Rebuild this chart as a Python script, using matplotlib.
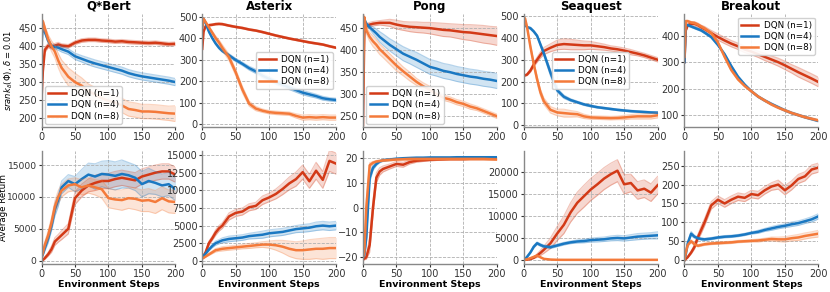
import numpy as np
import matplotlib
matplotlib.use("Agg")
import matplotlib.pyplot as plt

games = ["Q*Bert", "Asterix", "Pong", "Seaquest", "Breakout"]
labels = ["DQN (n=1)", "DQN (n=4)", "DQN (n=8)"]
colors = ["#d33a17", "#1a78c2", "#f47a3a"]

steps = [0, 2, 5, 10, 15, 20, 25, 30, 40, 50, 60, 70, 80, 90, 100,
         110, 120, 130, 140, 150, 160, 170, 180, 190, 200]

# ---- srank (top row): mean and spread for n=1, n=4, n=8 ----
qbert_srank = [
    [250, 330, 390, 402, 398, 402, 405, 402, 400, 410, 416, 418, 418, 416, 415, 413, 414, 412, 411, 410, 409, 410, 408, 406, 407],
    [400, 460, 440, 415, 400, 398, 396, 392, 385, 372, 365, 358, 352, 347, 342, 337, 332, 325, 320, 316, 313, 310, 307, 304, 300],
    [420, 470, 450, 420, 400, 385, 360, 340, 315, 300, 290, 275, 265, 255, 248, 243, 235, 225, 222, 218, 218, 217, 215, 213, 212],
]
qbert_srank_sd = [
    [0, 5, 8, 6, 6, 6, 6, 5, 5, 5, 5, 5, 5, 5, 5, 5, 5, 5, 5, 5, 5, 5, 5, 5, 5],
    [5, 5, 5, 6, 6, 6, 7, 8, 8, 9, 9, 10, 10, 10, 10, 10, 10, 10, 10, 10, 10, 10, 10, 10, 10],
    [5, 5, 8, 12, 15, 18, 20, 22, 25, 25, 22, 20, 20, 20, 20, 20, 20, 20, 20, 20, 20, 20, 20, 20, 22],
]
asterix_srank = [
    [350, 430, 455, 460, 462, 465, 466, 465, 458, 452, 447, 440, 435, 428, 420, 412, 405, 398, 392, 386, 380, 375, 370, 362, 355],
    [450, 490, 470, 430, 400, 375, 355, 340, 320, 298, 280, 260, 245, 225, 210, 195, 182, 170, 158, 146, 138, 130, 120, 115, 112],
    [450, 490, 475, 450, 425, 400, 380, 355, 310, 240, 160, 95, 72, 62, 55, 52, 50, 48, 38, 30, 32, 30, 32, 30, 30],
]
asterix_srank_sd = [
    [2, 4, 4, 4, 4, 4, 4, 4, 4, 4, 4, 4, 4, 4, 4, 4, 4, 4, 4, 4, 4, 4, 4, 4, 4],
    [3, 5, 5, 5, 5, 5, 6, 6, 7, 8, 8, 9, 10, 10, 10, 10, 10, 10, 10, 10, 10, 9, 9, 8, 8],
    [3, 5, 5, 5, 8, 10, 12, 14, 15, 15, 15, 12, 10, 8, 8, 8, 8, 8, 10, 12, 12, 12, 12, 12, 12],
]
pong_srank = [
    [230, 440, 455, 458, 460, 461, 462, 462, 462, 458, 455, 453, 452, 451, 450, 448, 446, 445, 443, 441, 440, 438, 436, 434, 432],
    [350, 470, 460, 452, 445, 438, 430, 424, 412, 402, 392, 385, 378, 370, 362, 358, 353, 350, 346, 343, 340, 338, 335, 333, 330],
    [300, 475, 445, 430, 420, 412, 402, 395, 380, 365, 352, 340, 328, 318, 310, 300, 292, 288, 282, 278, 272, 268, 262, 256, 250],
]
pong_srank_sd = [
    [2, 5, 5, 5, 5, 5, 5, 6, 8, 10, 10, 11, 12, 12, 13, 14, 15, 15, 16, 17, 18, 19, 20, 20, 21],
    [3, 3, 3, 5, 8, 10, 12, 13, 14, 15, 16, 16, 17, 17, 17, 17, 17, 17, 17, 17, 17, 17, 17, 17, 17],
    [5, 5, 8, 10, 12, 12, 12, 12, 12, 12, 10, 10, 8, 8, 8, 8, 6, 6, 6, 6, 6, 5, 5, 5, 5],
]
seaquest_srank = [
    [230, 228, 232, 250, 278, 300, 322, 340, 355, 368, 372, 370, 368, 366, 366, 362, 358, 352, 348, 342, 335, 328, 320, 310, 300],
    [470, 460, 450, 445, 430, 410, 370, 330, 240, 160, 130, 115, 105, 95, 88, 82, 78, 74, 70, 67, 64, 62, 60, 58, 57],
    [450, 490, 450, 360, 280, 210, 150, 110, 70, 58, 55, 52, 50, 40, 35, 34, 33, 32, 33, 35, 38, 40, 40, 40, 45],
]
seaquest_srank_sd = [
    [3, 3, 5, 8, 10, 12, 14, 16, 18, 22, 24, 24, 22, 20, 18, 16, 14, 12, 12, 12, 12, 10, 10, 10, 10],
    [3, 3, 3, 5, 5, 5, 8, 10, 15, 10, 8, 6, 5, 5, 5, 4, 4, 4, 4, 4, 4, 4, 4, 4, 4],
    [5, 5, 8, 10, 12, 15, 15, 15, 15, 15, 18, 15, 12, 10, 8, 8, 8, 8, 8, 10, 10, 12, 12, 12, 12],
]
breakout_srank = [
    [300, 420, 440, 445, 445, 440, 432, 425, 410, 395, 382, 370, 360, 348, 340, 330, 320, 310, 300, 288, 275, 262, 250, 238, 225],
    [300, 440, 440, 435, 430, 425, 420, 412, 395, 365, 330, 285, 245, 215, 190, 170, 155, 142, 130, 118, 108, 100, 92, 85, 78],
    [320, 455, 455, 450, 448, 442, 435, 428, 410, 375, 320, 270, 235, 210, 190, 170, 155, 140, 128, 118, 108, 100, 92, 86, 80],
]
breakout_srank_sd = [
    [3, 5, 5, 8, 8, 8, 8, 10, 10, 12, 12, 12, 12, 12, 12, 12, 14, 14, 15, 16, 16, 18, 18, 18, 18],
    [3, 4, 4, 4, 4, 4, 4, 4, 4, 4, 4, 4, 4, 4, 4, 4, 4, 4, 4, 4, 4, 4, 4, 4, 4],
    [3, 4, 4, 4, 4, 4, 4, 4, 4, 4, 4, 4, 4, 4, 4, 4, 4, 4, 4, 4, 4, 4, 4, 4, 4],
]

# ---- average return (bottom row) ----
qbert_ret = [
    [0, 100, 400, 1000, 1800, 3000, 3500, 4000, 5000, 9800, 11000, 11800, 12200, 12500, 12500, 12800, 13000, 12800, 12600, 13200, 13500, 13800, 14000, 14000, 13500],
    [500, 1000, 2000, 3500, 5500, 8000, 9500, 11500, 12500, 12000, 12800, 13500, 13200, 13600, 13500, 13300, 13600, 13400, 13000, 12000, 12500, 12200, 11800, 12000, 11200],
    [500, 1200, 2500, 4000, 6000, 8500, 10000, 11000, 11800, 12000, 11500, 11800, 11500, 11200, 9800, 9600, 9500, 9800, 9700, 9400, 9500, 9200, 9800, 9300, 9200],
]
qbert_ret_sd = [
    [0, 100, 200, 300, 500, 600, 600, 700, 800, 1000, 1000, 1000, 1200, 1200, 1200, 1200, 1200, 1200, 1200, 1200, 1200, 1200, 1200, 1200, 1200],
    [200, 300, 500, 700, 800, 1000, 1000, 1000, 1000, 1200, 1500, 1800, 2000, 2000, 2200, 2200, 2200, 2000, 2000, 2000, 2000, 1800, 1800, 1800, 1800],
    [200, 300, 500, 700, 800, 900, 1000, 1000, 1000, 1000, 1200, 1200, 1200, 1400, 1500, 1500, 1600, 1600, 1700, 1700, 1800, 1800, 1800, 1800, 1800],
]
asterix_ret = [
    [500, 700, 1200, 2500, 3200, 4000, 4600, 5000, 6300, 6800, 7000, 7600, 7800, 8600, 9000, 9500, 10200, 11000, 11600, 12600, 11300, 12800, 11500, 14200, 13800],
    [500, 700, 1000, 1600, 2100, 2500, 2700, 2900, 3100, 3200, 3300, 3500, 3600, 3700, 3900, 4000, 4100, 4300, 4500, 4600, 4700, 4900, 5000, 4900, 5000],
    [300, 400, 600, 900, 1200, 1500, 1600, 1700, 1800, 1900, 2000, 2100, 2200, 2300, 2300, 2200, 2000, 1700, 1500, 1500, 1600, 1700, 1700, 1800, 1800],
]
asterix_ret_sd = [
    [50, 100, 150, 300, 300, 400, 400, 400, 500, 500, 500, 500, 500, 600, 600, 700, 800, 900, 1000, 1000, 1000, 1200, 1200, 1500, 1500],
    [50, 100, 150, 200, 250, 300, 300, 350, 400, 400, 400, 400, 450, 500, 500, 500, 500, 500, 500, 550, 550, 600, 600, 600, 600],
    [50, 50, 100, 150, 200, 250, 250, 300, 300, 300, 300, 350, 350, 400, 500, 700, 900, 1100, 1200, 1300, 1400, 1400, 1500, 1500, 1500],
]
pong_ret = [
    [-21, -20.5, -20, -15, 0, 12, 14.5, 15.5, 16.5, 17.5, 17.2, 18.3, 18.8, 19, 19.2, 19.3, 19.4, 19.5, 19.5, 19.5, 19.6, 19.6, 19.6, 19.6, 19.6],
    [-20, -19, -12, 12, 16, 17.5, 18.5, 19, 19.3, 19.6, 19.8, 19.9, 20, 20, 20.1, 20.1, 20.1, 20.1, 20.2, 20.2, 20.2, 20.2, 20.2, 20.2, 20.2],
    [-20, -18, 0, 17, 18, 18.5, 18.7, 18.9, 19.1, 19.3, 19.4, 19.5, 19.5, 19.5, 19.5, 19.5, 19.5, 19.5, 19.5, 19.5, 19.5, 19.5, 19.5, 19.4, 19.3],
]
pong_ret_sd = [
    [0.3, 0.5, 0.8, 3, 3, 2, 1.5, 1.2, 1, 1, 1, 0.8, 0.6, 0.5, 0.5, 0.4, 0.4, 0.4, 0.4, 0.4, 0.4, 0.4, 0.4, 0.4, 0.4],
    [0.3, 1, 3, 2, 1, 0.6, 0.5, 0.4, 0.4, 0.3, 0.3, 0.3, 0.3, 0.3, 0.3, 0.3, 0.3, 0.3, 0.3, 0.3, 0.3, 0.3, 0.3, 0.3, 0.3],
    [0.3, 1, 3, 1, 0.5, 0.4, 0.4, 0.4, 0.4, 0.4, 0.4, 0.4, 0.4, 0.4, 0.4, 0.4, 0.4, 0.4, 0.4, 0.4, 0.4, 0.4, 0.4, 0.4, 0.4],
]
seaquest_ret = [
    [0, 20, 60, 200, 500, 1000, 1600, 2300, 3800, 6000, 8000, 10800, 13000, 14500, 16000, 17200, 18500, 19500, 20300, 17200, 17500, 15800, 16200, 15300, 17000],
    [0, 200, 700, 1700, 3000, 3800, 3400, 3100, 2900, 3300, 3700, 4000, 4200, 4300, 4500, 4600, 4700, 4900, 5000, 4900, 5100, 5300, 5400, 5500, 5600],
    [0, 50, 150, 400, 700, 1000, 600, 250, 80, 30, 20, 20, 20, 20, 20, 20, 20, 20, 20, 20, 20, 20, 20, 20, 20],
]
seaquest_ret_sd = [
    [0, 10, 30, 100, 200, 400, 600, 800, 1200, 1600, 2000, 2200, 2400, 2500, 2500, 2500, 2500, 2500, 2500, 2200, 2000, 2000, 2000, 2000, 2000],
    [0, 50, 100, 200, 300, 300, 300, 300, 300, 300, 300, 300, 350, 400, 450, 500, 500, 550, 600, 600, 650, 700, 700, 700, 800],
    [0, 10, 30, 60, 80, 100, 80, 50, 20, 10, 10, 10, 10, 10, 10, 10, 10, 10, 10, 10, 10, 10, 10, 10, 10],
]
breakout_ret = [
    [0, 3, 8, 20, 35, 60, 80, 100, 145, 160, 150, 160, 168, 165, 175, 172, 185, 195, 200, 185, 198, 215, 222, 240, 245],
    [0, 15, 45, 70, 62, 58, 56, 55, 57, 60, 62, 63, 65, 68, 72, 75, 80, 84, 88, 91, 95, 98, 103, 108, 116],
    [0, 20, 40, 50, 42, 38, 40, 42, 44, 45, 46, 47, 49, 50, 51, 52, 54, 56, 55, 55, 58, 60, 64, 67, 70],
]
breakout_ret_sd = [
    [0, 1, 2, 4, 6, 8, 10, 10, 10, 10, 10, 10, 10, 10, 10, 10, 10, 10, 12, 12, 12, 12, 12, 12, 12],
    [0, 2, 4, 6, 4, 3, 3, 3, 3, 3, 3, 3, 3, 3, 3, 4, 4, 5, 5, 5, 6, 6, 6, 7, 7],
    [0, 2, 3, 4, 3, 3, 3, 3, 3, 3, 3, 3, 3, 3, 3, 4, 4, 5, 6, 7, 7, 8, 8, 8, 9],
]

top_data = [(qbert_srank, qbert_srank_sd), (asterix_srank, asterix_srank_sd),
            (pong_srank, pong_srank_sd), (seaquest_srank, seaquest_srank_sd),
            (breakout_srank, breakout_srank_sd)]
bot_data = [(qbert_ret, qbert_ret_sd), (asterix_ret, asterix_ret_sd),
            (pong_ret, pong_ret_sd), (seaquest_ret, seaquest_ret_sd),
            (breakout_ret, breakout_ret_sd)]

top_ylim = [(174, 490), (-15, 512), (225, 482), (-10, 510), (54, 482)]
top_yticks = [[200, 250, 300, 350, 400, 450], [0, 100, 200, 300, 400, 500],
              [250, 300, 350, 400, 450], [0, 100, 200, 300, 400, 500],
              [100, 200, 300, 400]]
bot_ylim = [(-570, 17200), (-500, 15600), (-22.8, 22.7), (-985, 24770), (-11, 289)]
bot_yticks = [[0, 5000, 10000, 15000], [0, 2500, 5000, 7500, 10000, 12500, 15000],
              [-20, -10, 0, 10, 20], [0, 5000, 10000, 15000, 20000],
              [0, 50, 100, 150, 200, 250]]
legend_loc = ["lower left", "center right", "lower left", "center", "upper right"]

plt.rcParams["font.family"] = "DejaVu Sans"
plt.rcParams["font.size"] = 7

fig, axes = plt.subplots(2, 5, figsize=(8.3, 2.92), dpi=100)
fig.subplots_adjust(left=0.05, right=0.986, top=0.952, bottom=0.095,
                    wspace=0.2, hspace=0.21)

x = np.array(steps)


def style(ax):
    for s in ["top", "right"]:
        ax.spines[s].set_visible(False)
    for s in ["left", "bottom"]:
        ax.spines[s].set_color("#888888")
        ax.spines[s].set_linewidth(1.0)
    ax.grid(True, linestyle="--", color="#b0b0b0", linewidth=0.6)
    ax.tick_params(labelsize=7, colors="#333333", length=2.5, width=0.8, pad=1)
    ax.set_xlim(0, 200)
    ax.set_xticks([0, 50, 100, 150, 200])


def draw(ax, data):
    means, sds = data
    for m, sd, c, lab in zip(means, sds, colors, labels):
        m = np.array(m, dtype=float)
        sd = np.array(sd, dtype=float)
        ax.fill_between(x, m - sd, m + sd, color=c, alpha=0.2, lw=0)
        ax.plot(x, m + sd, color=c, alpha=0.3, lw=0.8)
        ax.plot(x, m - sd, color=c, alpha=0.3, lw=0.8)
        ax.plot(x, m, color=c, lw=1.8, label=lab)


for i in range(5):
    ax = axes[0, i]
    draw(ax, top_data[i])
    style(ax)
    ax.set_ylim(*top_ylim[i])
    ax.set_yticks(top_yticks[i])
    ax.set_title(games[i], fontsize=8.5, fontweight="bold", pad=3)
    ax.legend(loc=legend_loc[i], fontsize=6.3, handlelength=2.0,
              borderpad=0.35, labelspacing=0.25, handletextpad=0.6,
              borderaxespad=0.4, framealpha=0.9)

    ax = axes[1, i]
    draw(ax, bot_data[i])
    style(ax)
    ax.set_ylim(*bot_ylim[i])
    ax.set_yticks(bot_yticks[i])
    ax.set_xlabel("Environment Steps", fontsize=6.8, fontweight="bold", labelpad=0.5)

axes[1, 0].tick_params(axis="y", labelsize=6.6)

axes[0, 0].set_ylabel(r"$\mathit{srank}_\delta(\Phi),\,\delta=0.01$", fontsize=6)
axes[0, 0].yaxis.set_label_coords(-0.2, 0.5)
axes[1, 0].set_ylabel("Average Return", fontsize=6.2)
axes[1, 0].yaxis.set_label_coords(-0.25, 0.5)

fig.savefig("out.png", dpi=100)
